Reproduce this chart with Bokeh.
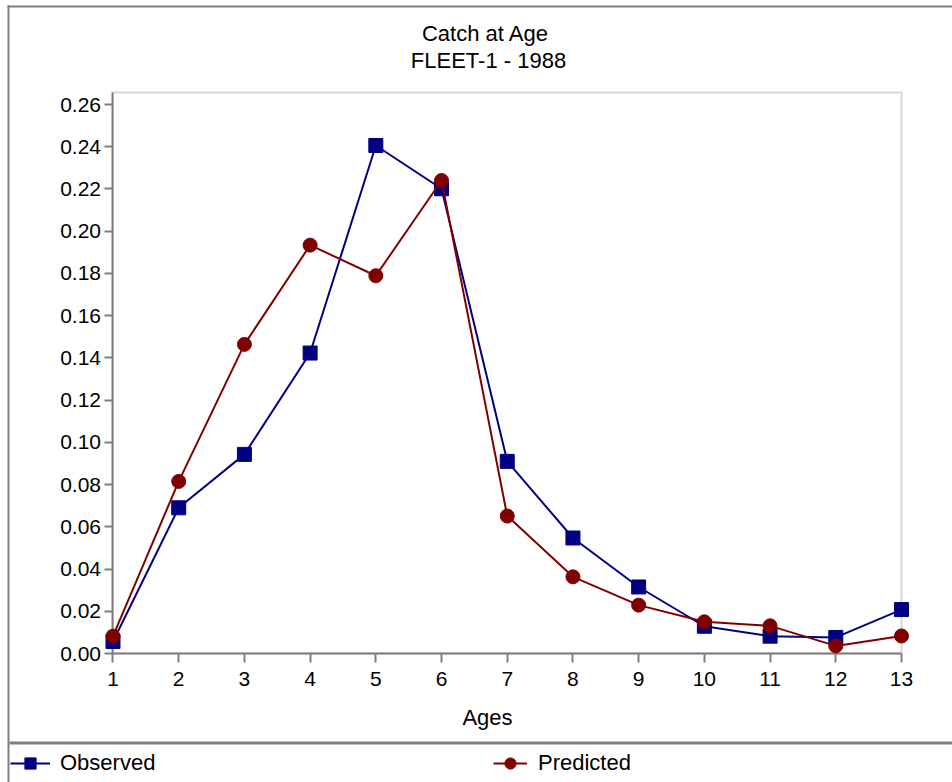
from bokeh.plotting import figure
from bokeh.models import (Range1d, Label, Legend, LegendItem, BoxAnnotation,
                          FixedTicker, NumeralTickFormatter)
from bokeh.embed import file_html
from bokeh.resources import INLINE

# Catch-at-age proportions for fleet 1, 1988
ages = [1, 2, 3, 4, 5, 6, 7, 8, 9, 10, 11, 12, 13]
observed = [0.0057, 0.0690, 0.0943, 0.1423, 0.2406, 0.2201, 0.0910,
            0.0547, 0.0315, 0.0129, 0.0082, 0.0076, 0.0208]
predicted = [0.0082, 0.0815, 0.1464, 0.1934, 0.1789, 0.2240, 0.0651,
             0.0363, 0.0229, 0.0150, 0.0131, 0.0036, 0.0083]
y_ticks = [0.00, 0.02, 0.04, 0.06, 0.08, 0.10, 0.12, 0.14, 0.16, 0.18,
           0.20, 0.22, 0.24, 0.26]
y_top = 0.2657

FONT = "Liberation Sans"
GRAY = "#808080"
BLUE = "#000080"
RED = "#800000"
W, H = 952, 782

# The frame fills the whole page; axes sit at fixed data locations so that
# markers at the ends of the series are drawn in full.
p = figure(width=W, height=H, output_backend="svg", toolbar_location=None,
           x_range=Range1d(-0.7121, 13.7762),
           y_range=Range1d(-0.061094, 0.309259),
           min_border=0, min_border_left=0, min_border_right=0,
           min_border_top=0, min_border_bottom=0)
p.background_fill_color = "white"
p.border_fill_color = "white"
p.outline_line_color = None
p.xgrid.visible = False
p.ygrid.visible = False

xax = p.xaxis[0]
yax = p.yaxis[0]
xax.ticker = FixedTicker(ticks=ages)
yax.ticker = FixedTicker(ticks=y_ticks)
yax.formatter = NumeralTickFormatter(format="0.00")
xax.fixed_location = 0
xax.bounds = (1, 13)
yax.fixed_location = 1
yax.bounds = (0, y_top)
for ax in (xax, yax):
    ax.level = "underlay"
    ax.axis_line_color = GRAY
    ax.axis_line_width = 2
    ax.major_tick_line_color = GRAY
    ax.major_tick_line_width = 2
    ax.minor_tick_line_color = None
    ax.major_tick_in = 0
    ax.major_label_text_font = FONT
    ax.major_label_text_font_size = "21px"
    ax.major_label_text_color = "black"
yax.major_tick_out = 8
yax.major_label_standoff = 4
xax.major_tick_out = 9
xax.major_label_standoff = 9

# plot-area outline
p.add_layout(BoxAnnotation(left=1, right=13, bottom=0, top=y_top,
                           fill_alpha=0, line_color="#7a7a7a", line_width=2,
                           level="underlay"))

# page frame and legend separator (screen px, y measured from the bottom)
for box in (
    dict(left=7, right=9, top=H - 5, bottom=0),
    dict(left=7, right=W, top=H - 5, bottom=H - 7),
    dict(left=9, right=W, top=H - 741, bottom=H - 744),
):
    p.add_layout(BoxAnnotation(left_units="screen", right_units="screen",
                               top_units="screen", bottom_units="screen",
                               fill_color=GRAY, fill_alpha=1.0,
                               line_color=None, level="underlay", **box))

# titles and axis caption
for text, x, y in (("Catch at Age", 485, H - 33),
                   ("FLEET-1 - 1988", 488, H - 60),
                   ("Ages", 487, H - 717)):
    p.add_layout(Label(text=text, x=x, y=y, x_units="screen",
                       y_units="screen", text_align="center",
                       text_baseline="alphabetic", text_font=FONT,
                       text_font_size="22px", text_color="black"))

# series
obs_line = p.line(ages, observed, line_color=BLUE, line_width=2)
obs_pts = p.scatter(ages, observed, marker="square", size=14,
                    fill_color=BLUE, line_color=BLUE)
pred_line = p.line(ages, predicted, line_color=RED, line_width=2)
pred_pts = p.scatter(ages, predicted, marker="circle", size=14,
                     fill_color=RED, line_color=RED)


def make_legend(label, renderers, x0, glyph_w, standoff):
    leg = Legend(items=[LegendItem(label=label, renderers=renderers)],
                 location=(x0, 5), orientation="horizontal",
                 border_line_color=None, background_fill_alpha=0,
                 padding=0, margin=0, glyph_width=glyph_w, glyph_height=28,
                 label_standoff=standoff, label_text_font=FONT,
                 label_text_font_size="22px", label_text_color="black")
    p.add_layout(leg, "center")


make_legend("Observed", [obs_line, obs_pts], 10, 40, 10)
make_legend("Predicted", [pred_line, pred_pts], 493, 34, 11)

open("out.html", "w").write(file_html(p, INLINE))
